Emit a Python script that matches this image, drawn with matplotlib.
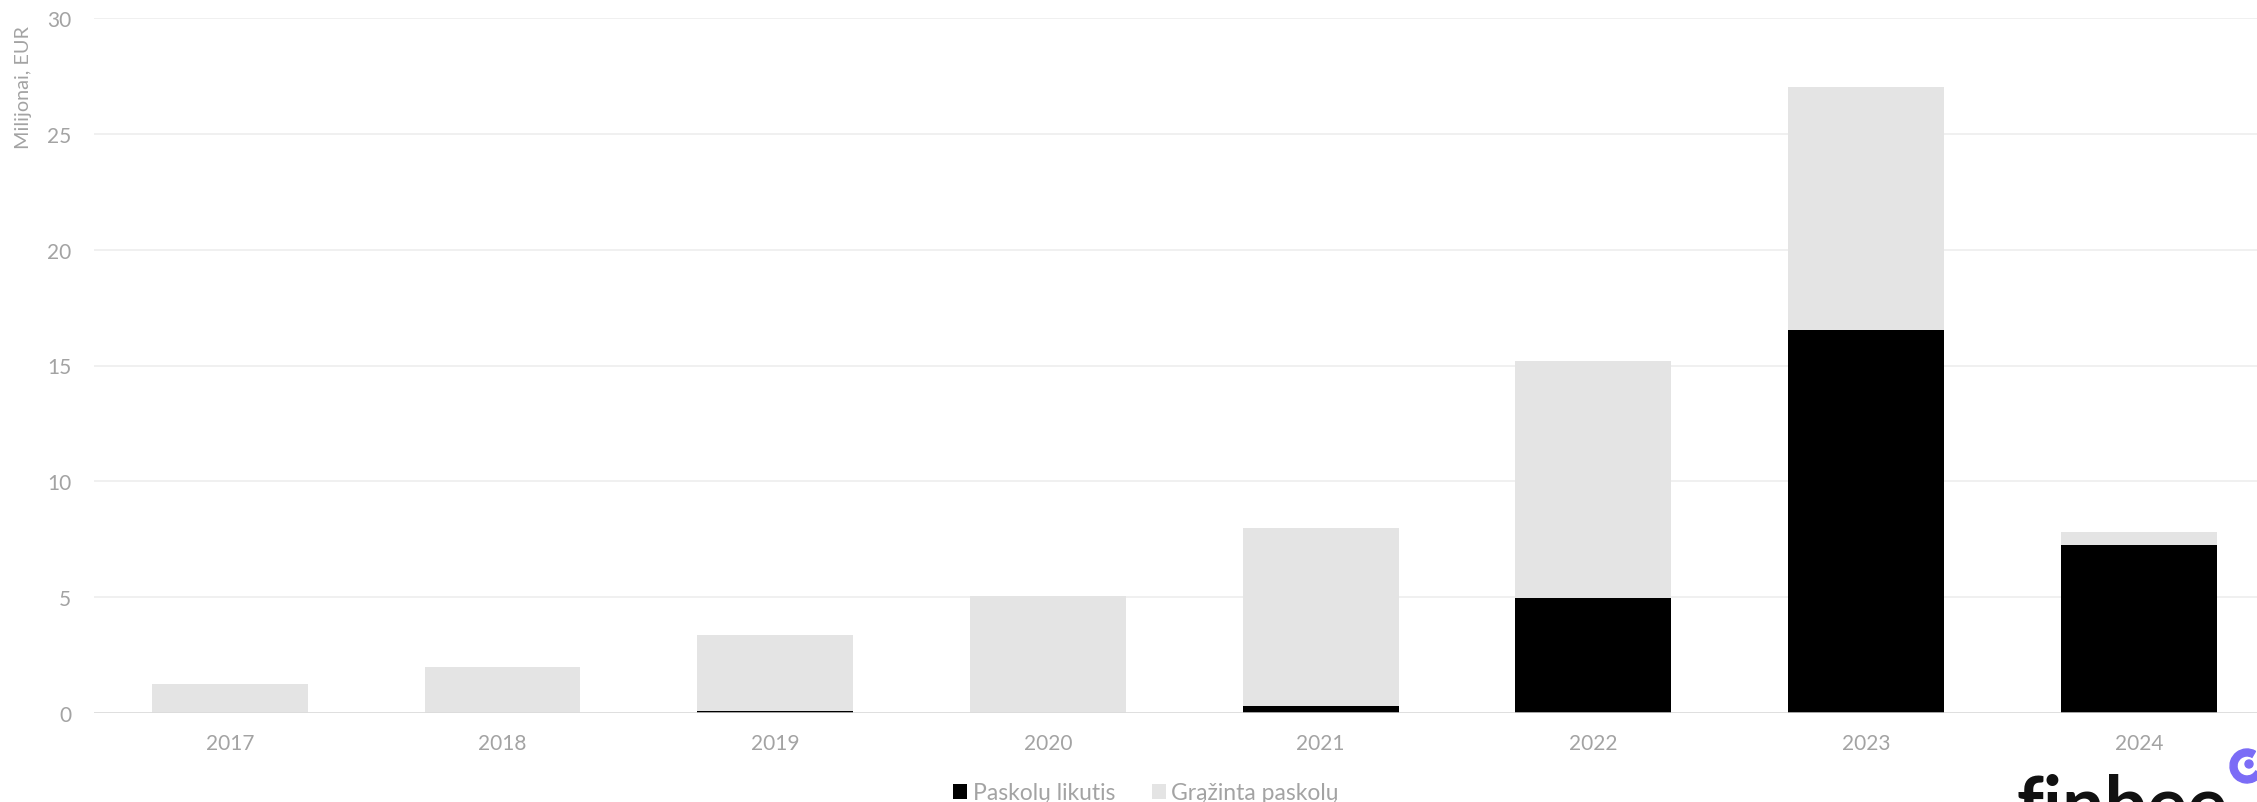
import matplotlib.pyplot as plt
from matplotlib.patches import Circle, Wedge

years = ["2017", "2018", "2019", "2020", "2021", "2022", "2023", "2024"]
likutis = [0.0, 0.0, 0.08, 0.03, 0.33, 4.97, 16.55, 7.26]
total = [1.28, 1.98, 3.38, 5.05, 8.0, 15.2, 27.0, 7.82]
grazinta = [t - l for t, l in zip(total, likutis)]

yticks = [0, 5, 10, 15, 20, 25, 30]

BLACK = "#000000"
GRAY = "#e4e4e4"
TXT = "#a3a3a3"

plt.rcParams["font.family"] = ["Lato", "DejaVu Sans"]

fig = plt.figure(figsize=(22.57, 8.03), dpi=100)
ax = fig.add_axes([93.5 / 2257, 88.7 / 803, 2181.6 / 2257, 695.6 / 803])

x = list(range(len(years)))
b1 = ax.bar(x, likutis, width=0.571, color=BLACK, zorder=3, label="Paskolų likutis")
b2 = ax.bar(x, grazinta, width=0.571, bottom=likutis, color=GRAY, zorder=3,
            label="Grąžinta paskolų")

ax.set_xlim(-0.5, 7.5)
ax.set_ylim(0, 30)
ax.set_yticks(yticks)
ax.set_xticks(x)
ax.set_xticklabels(years)
ax.grid(axis="y", color="#efefef", linewidth=1.3, zorder=0)
ax.axhline(0, color="#dadada", linewidth=1.8, zorder=4)

for s in ax.spines.values():
    s.set_visible(False)
ax.tick_params(axis="both", length=0, labelsize=15, colors=TXT)
ax.tick_params(axis="y", pad=16)
ax.tick_params(axis="x", pad=14)

fig.text(24 / 2257, 1 - 26 / 803, "Milijonai, EUR", rotation=90, ha="center", va="top",
         fontsize=14.3, color=TXT)

fig.legend(handles=[b1, b2], loc="center", bbox_to_anchor=(1146 / 2257, 9 / 803),
           ncol=2, frameon=False, fontsize=16.5, labelcolor=TXT,
           handlelength=0.6, handleheight=0.6, handletextpad=0.25,
           columnspacing=1.6, borderpad=0)

# logo
fig.text(2016 / 2257, -27 / 803, "finbee", fontsize=54, fontweight="bold",
         color="#111111", ha="left", va="baseline")
fig.patches.append(Wedge((2247, 803 - 767), 17, 60, 330, width=7, color="#7b6cf6",
                         transform=None))
fig.patches.append(Circle((2249, 803 - 765), 4, color="#7b6cf6", transform=None))

fig.savefig("out.png", dpi=100)
